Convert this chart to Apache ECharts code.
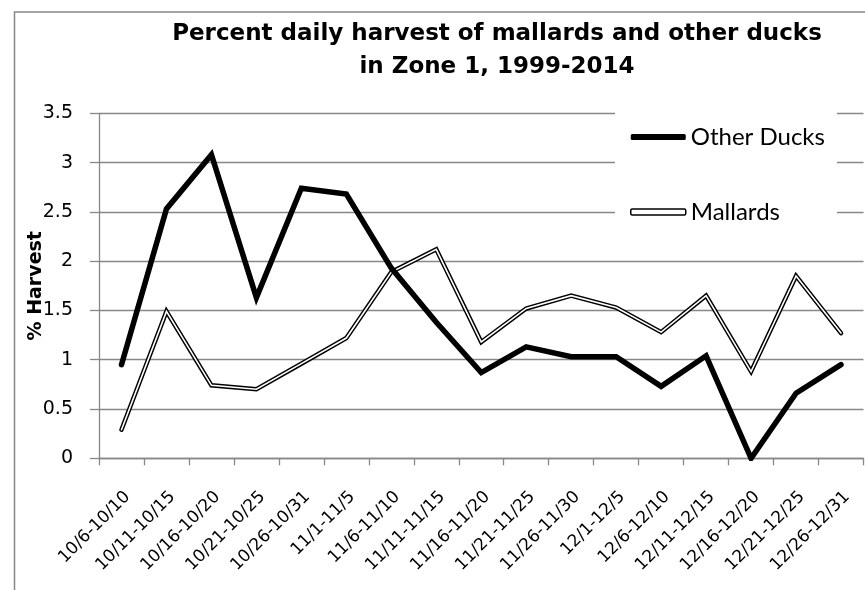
<!DOCTYPE html>
<html>
<head>
<meta charset="utf-8">
<script src="https://cdn.jsdelivr.net/npm/echarts@6/dist/echarts.min.js"></script>
<style>
html,body{margin:0;padding:0;background:#fff;}
#chart{width:865px;height:590px;}
</style>
</head>
<body>
<div id="chart"></div>
<script>
const categories = ['10/6-10/10','10/11-10/15','10/16-10/20','10/21-10/25','10/26-10/31','11/1-11/5','11/6-11/10','11/11-11/15','11/16-11/20','11/21-11/25','11/26-11/30','12/1-12/5','12/6-12/10','12/11-12/15','12/16-12/20','12/21-12/25','12/26-12/31'];
const otherDucks = [0.95,2.53,3.08,1.63,2.74,2.68,1.93,1.38,0.87,1.13,1.03,1.03,0.73,1.04,0.0,0.66,0.95];
const mallards = [0.29,1.49,0.74,0.70,0.96,1.22,1.89,2.12,1.18,1.52,1.65,1.53,1.28,1.65,0.88,1.85,1.27];
const titleText = 'Percent daily harvest of mallards and other ducks\nin Zone 1, 1999-2014';
const yAxisName = '% Harvest';

const gray = '#878787';
const chart = echarts.init(document.getElementById('chart'));
chart.setOption({
  animation: false,
  backgroundColor: '#fff',
  graphic: [{
    type: 'rect', left: 12, top: 9.5, z: -10,
    shape: {width: 900, height: 620},
    style: {fill: 'none', stroke: gray, lineWidth: 1.5}
  }],
  title: {
    text: titleText,
    left: 497, top: 18, textAlign: 'center', padding: 0,
    textStyle: {fontFamily: 'DejaVu Sans', fontWeight: 'bold', fontSize: 23, lineHeight: 33, color: '#000'}
  },
  legend: {
    orient: 'vertical',
    left: 615, top: 100,
    padding: [22, 12, 8, 15],
    itemGap: 45,
    itemWidth: 55, itemHeight: 6,
    backgroundColor: '#fff',
    selectedMode: false,
    textStyle: {fontFamily: 'Lato', fontSize: 24, lineHeight: 30, color: '#000'},
    data: [
      {name: 'Other Ducks', icon: 'roundRect', itemStyle: {color: '#000', borderWidth: 0}},
      {name: 'Mallards', icon: 'roundRect', itemStyle: {color: '#fff', borderColor: '#000', borderWidth: 1.5}}
    ]
  },
  grid: {left: 99, right: 1.5, top: 113.3, bottom: 131.7, containLabel: false},
  xAxis: {
    type: 'category',
    data: categories,
    boundaryGap: true,
    axisLine: {show: true, lineStyle: {color: gray, width: 1.3}},
    axisTick: {show: true, length: 7, alignWithLabel: false, lineStyle: {color: gray, width: 1.3}},
    axisLabel: {
      interval: 0, rotate: 45, margin: 30,
      align: 'right', verticalAlign: 'top',
      fontFamily: 'DejaVu Sans', fontSize: 17, color: '#000'
    },
    splitLine: {show: false}
  },
  yAxis: {
    type: 'value', min: 0, max: 3.5, interval: 0.5,
    name: yAxisName, nameLocation: 'middle', nameRotate: 90, nameGap: 53,
    nameMoveOverlap: false,
    nameTextStyle: {fontFamily: 'DejaVu Sans', fontWeight: 'bold', fontSize: 19, color: '#000'},
    axisLine: {show: true, lineStyle: {color: gray, width: 1.3}},
    axisTick: {show: true, length: 9, lineStyle: {color: gray, width: 1.3}},
    axisLabel: {margin: 26, fontFamily: 'DejaVu Sans', fontSize: 19, color: '#000'},
    splitLine: {show: true, lineStyle: {color: gray, width: 1.3}}
  },
  series: [
    {
      name: 'Mallards', type: 'line', data: mallards,
      showSymbol: false, symbol: 'none', z: 2,
      lineStyle: {color: '#000', width: 4.5, join: 'miter', cap: 'round'},
      itemStyle: {color: '#fff'}
    },
    {
      name: 'Mallards inner', type: 'line', data: mallards,
      showSymbol: false, symbol: 'none', z: 3,
      lineStyle: {color: '#fff', width: 1.6, join: 'miter', cap: 'round'},
      itemStyle: {color: '#fff'}
    },
    {
      name: 'Other Ducks', type: 'line', data: otherDucks,
      showSymbol: false, symbol: 'none', z: 4,
      lineStyle: {color: '#000', width: 5.5, join: 'miter', cap: 'round'},
      itemStyle: {color: '#000'}
    }
  ]
});
</script>
</body>
</html>
